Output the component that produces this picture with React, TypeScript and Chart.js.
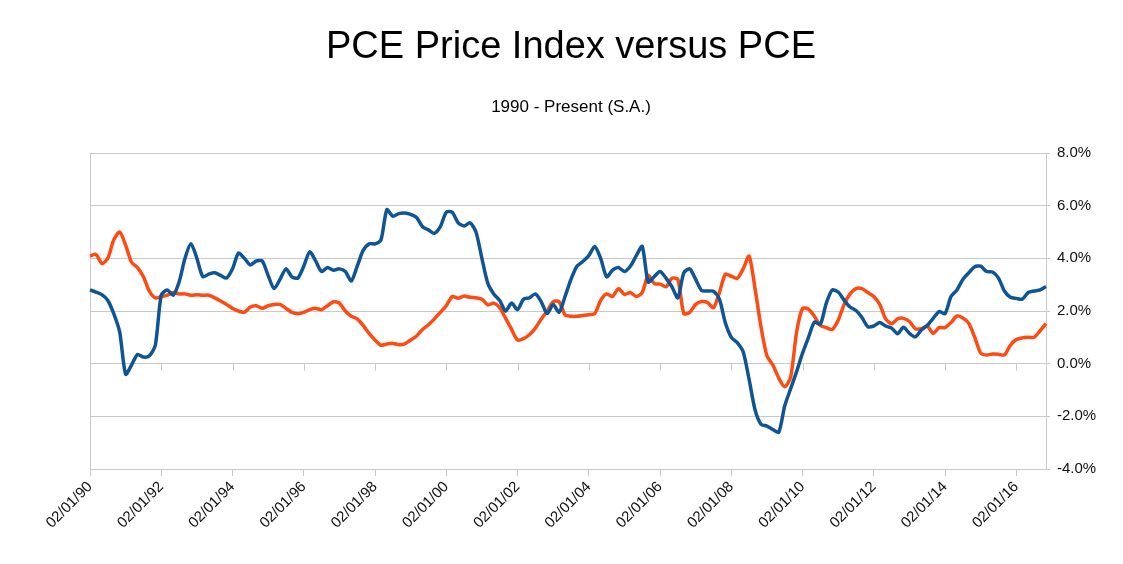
import { useEffect, useRef } from "react";
import { Chart, Plugin, registerables } from "chart.js";

Chart.register(...registerables);

// one point every two months, starting 02/01/90
const START_YEAR = 1990;
const START_MONTH = 2;
const STEP_MONTHS = 2;
const LABEL_EVERY = 12; // a tick label every 24 months

const pceValues = [
  2.8, 2.72, 2.62, 2.4, 1.9, 1.2, -0.4, -0.05, 0.35, 0.25, 0.3, 0.7,
  2.6, 2.8, 2.6, 3.1, 4.0, 4.55, 4.0, 3.3, 3.4, 3.45, 3.35, 3.25,
  3.6, 4.2, 4.0, 3.75, 3.9, 3.9, 3.35, 2.85, 3.2, 3.6, 3.3, 3.25,
  3.7, 4.25, 3.9, 3.5, 3.65, 3.55, 3.6, 3.5, 3.14, 3.7, 4.3, 4.55,
  4.55, 4.7, 5.85, 5.6, 5.7, 5.72, 5.67, 5.55, 5.2, 5.08, 4.95, 5.2,
  5.75, 5.75, 5.35, 5.23, 5.35, 5.0, 4.0, 3.05, 2.65, 2.4, 2.0, 2.3,
  2.05, 2.45, 2.5, 2.65, 2.35, 1.9, 2.25, 1.95, 2.55, 3.2, 3.7, 3.88,
  4.1, 4.45, 4.0, 3.3, 3.55, 3.65, 3.5, 3.7, 4.1, 4.45, 3.1, 3.3,
  3.5, 3.25, 2.92, 2.5, 3.45, 3.6, 3.2, 2.78, 2.76, 2.75, 2.45, 1.55,
  1.0, 0.8, 0.45, -0.6, -1.75, -2.3, -2.37, -2.5, -2.6, -1.6, -0.95, -0.3,
  0.4, 1.0, 1.58, 1.5, 2.3, 2.8, 2.72, 2.41, 2.15, 2.02, 1.75, 1.4,
  1.43, 1.56, 1.43, 1.35, 1.14, 1.38, 1.15, 1.02, 1.28, 1.45, 1.72, 1.98,
  1.9, 2.55, 2.8, 3.2, 3.45, 3.68, 3.7, 3.5, 3.48, 3.25, 2.76, 2.52,
  2.48, 2.45, 2.7, 2.76, 2.8, 2.93,
];

const priceIndexValues = [
  4.09, 4.15, 3.8, 4.0, 4.7, 5.0, 4.5, 3.85, 3.65, 3.3, 2.75, 2.5,
  2.55, 2.6, 2.7, 2.65, 2.65, 2.6, 2.62, 2.6, 2.6, 2.5, 2.38, 2.25,
  2.1, 2.0, 1.95, 2.15, 2.2, 2.1, 2.2, 2.25, 2.25, 2.1, 1.95, 1.9,
  1.95, 2.05, 2.1, 2.05, 2.2, 2.35, 2.3, 2.0, 1.8, 1.7, 1.45, 1.15,
  0.9, 0.7, 0.75, 0.77, 0.72, 0.75, 0.9, 1.05, 1.3, 1.48, 1.7, 1.95,
  2.2, 2.55, 2.48, 2.57, 2.52, 2.5, 2.45, 2.23, 2.3, 2.13, 1.72, 1.3,
  0.9, 0.95, 1.1, 1.35, 1.7, 2.0, 2.35, 2.35, 1.85, 1.8, 1.8, 1.83,
  1.86, 1.9, 2.4, 2.65, 2.55, 2.85, 2.63, 2.7, 2.55, 2.7, 3.35, 3.05,
  3.02, 2.92, 3.24, 3.2, 1.9, 1.95, 2.25, 2.36, 2.32, 2.12, 2.7, 3.4,
  3.32, 3.24, 3.6, 4.08, 2.85, 1.4, 0.3, -0.05, -0.55, -0.88, -0.5, 1.2,
  2.1, 2.07, 1.8, 1.45, 1.37, 1.3, 1.65, 2.25, 2.65, 2.85, 2.85, 2.7,
  2.55, 2.25, 1.7, 1.52, 1.7, 1.72, 1.6, 1.33, 1.33, 1.43, 1.15, 1.37,
  1.37, 1.56, 1.81, 1.73, 1.53, 1.0, 0.4, 0.33, 0.37, 0.36, 0.33, 0.7,
  0.92, 0.98, 1.0, 1.0, 1.25, 1.52,
];

const categories = pceValues.map((_, i) => {
  const m = START_MONTH - 1 + i * STEP_MONTHS;
  const mm = String((m % 12) + 1).padStart(2, "0");
  const yy = String((START_YEAR + Math.floor(m / 12)) % 100).padStart(2, "0");
  return `${mm}/01/${yy}`;
});

const Y_MIN = -4;
const Y_MAX = 8;
const Y_STEP = 2;

const BLUE = "#0f5595";
const ORANGE = "#ff4a12";
const GRID = "#c9c9c9";
const FONT = "'Liberation Sans', Arial, Helvetica, sans-serif";

// small tick marks hanging below the 0% line, like the original
const zeroLineTicks: Plugin<"line"> = {
  id: "zeroLineTicks",
  beforeDatasetsDraw(chart) {
    const { ctx, scales } = chart;
    const x = scales.x;
    const y0 = scales.y.getPixelForValue(0);
    ctx.save();
    ctx.strokeStyle = GRID;
    ctx.lineWidth = 1;
    for (let i = LABEL_EVERY; i < categories.length; i += LABEL_EVERY) {
      const px = Math.round(x.getPixelForValue(i)) + 0.5;
      ctx.beginPath();
      ctx.moveTo(px, y0);
      ctx.lineTo(px, y0 + 7);
      ctx.stroke();
    }
    ctx.restore();
  },
};

export default function App() {
  const canvasRef = useRef<HTMLCanvasElement>(null);
  const chartRef = useRef<Chart | null>(null);

  useEffect(() => {
    document.body.style.margin = "0";
    if (!canvasRef.current) return;

    if (chartRef.current) {
      chartRef.current.destroy();
    }

    chartRef.current = new Chart(canvasRef.current, {
      type: "line",
      data: {
        labels: categories,
        datasets: [
          {
            label: "PCE",
            data: pceValues,
            borderColor: BLUE,
            borderWidth: 3.5,
            pointRadius: 0,
            tension: 0.25,
          },
          {
            label: "PCE Price Index",
            data: priceIndexValues,
            borderColor: ORANGE,
            borderWidth: 3.5,
            pointRadius: 0,
            tension: 0.25,
          },
        ],
      },
      options: {
        responsive: false,
        animation: false,
        layout: { padding: { left: 19, right: 0, top: 0, bottom: 0 } },
        plugins: {
          legend: { display: false },
          tooltip: { enabled: false },
          title: {
            display: true,
            text: "PCE Price Index versus PCE",
            color: "#000",
            font: { family: FONT, size: 38, weight: "normal" },
            padding: { top: 25, bottom: 18 },
          },
          subtitle: {
            display: true,
            text: "1990 - Present (S.A.)",
            color: "#000",
            font: { family: FONT, size: 17, weight: "normal" },
            padding: { top: 9, bottom: 35 },
          },
        },
        scales: {
          x: {
            type: "category",
            grid: {
              drawOnChartArea: true,
              color: (c) => (c.index === 0 ? GRID : "transparent"),
              tickColor: (c) => (c.index % LABEL_EVERY === 0 ? GRID : "transparent"),
              tickLength: 7,
            },
            border: { display: true, color: GRID },
            ticks: {
              autoSkip: false,
              minRotation: 45,
              maxRotation: 45,
              padding: 2,
              color: "#111",
              font: { family: FONT, size: 15 },
              callback: (_v, i) => (i % LABEL_EVERY === 0 ? categories[i] : ""),
            },
            afterFit: (scale) => {
              scale.height = 95;
            },
          },
          y: {
            position: "right",
            min: Y_MIN,
            max: Y_MAX,
            grid: { color: GRID, tickLength: 4 },
            border: { display: true, color: GRID },
            ticks: {
              stepSize: Y_STEP,
              padding: 7,
              color: "#111",
              font: { family: FONT, size: 15 },
              callback: (v) => `${Number(v).toFixed(1)}%`,
            },
            afterFit: (scale) => {
              scale.width = 77;
            },
          },
          // empty left gutter so the plot starts where the original does
          gutter: {
            type: "linear",
            position: "left",
            grid: { display: false },
            border: { display: false },
            ticks: { display: false },
            afterFit: (scale) => {
              scale.width = 71;
            },
          },
        },
      },
      plugins: [zeroLineTicks],
    });

    return () => {
      if (chartRef.current) {
        chartRef.current.destroy();
        chartRef.current = null;
      }
    };
  }, []);

  return (
    <div style={{ width: 1123, height: 564, background: "#fff" }}>
      <canvas ref={canvasRef} width={1123} height={564} />
    </div>
  );
}
